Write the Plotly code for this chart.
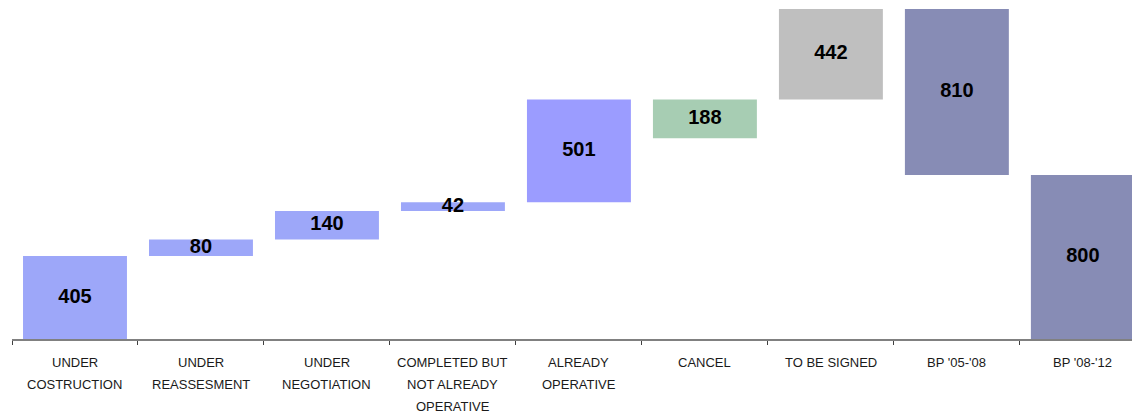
import plotly.graph_objects as go

# Project pipeline waterfall: categories, values and label lines
categories = [
    "UNDER COSTRUCTION",
    "UNDER REASSESMENT",
    "UNDER NEGOTIATION",
    "COMPLETED BUT NOT ALREADY OPERATIVE",
    "ALREADY OPERATIVE",
    "CANCEL",
    "TO BE SIGNED",
    "BP '05-'08",
    "BP '08-'12",
]
label_lines = [
    ["UNDER", "COSTRUCTION"],
    ["UNDER", "REASSESMENT"],
    ["UNDER", "NEGOTIATION"],
    ["COMPLETED BUT", "NOT ALREADY", "OPERATIVE"],
    ["ALREADY", "OPERATIVE"],
    ["CANCEL"],
    ["TO BE SIGNED"],
    ["BP '05-'08"],
    ["BP '08-'12"],
]
values = [405, 80, 140, 42, 501, 188, 442, 810, 800]
colors = ["#9DA7F9", "#9DA7F9", "#9DA7F9", "#9DA7F9", "#9B9CFF",
          "#A7CDB3", "#BFBFBF", "#878CB5", "#878CB5"]

# Floating bar bases
bases = []
running = 0
for v in values[:5]:
    bases.append(running)
    running += v
bases.append(running - values[5])        # cancelled projects hang below the total
bases.append(running)                    # to-be-signed stacks on top of the total
grand_total = running + values[6]
bases.append(grand_total - values[7])    # BP '05-'08 reaches the grand total
bases.append(0)                          # BP '08-'12 from zero

FONT = "Liberation Sans, Arial, sans-serif"

fig = go.Figure()
fig.add_trace(go.Bar(
    x=categories, y=values, base=bases,
    marker=dict(color=colors, line=dict(width=0)),
    hoverinfo="skip", showlegend=False,
))
fig.add_trace(go.Scatter(
    x=categories,
    y=[b + v / 2 for b, v in zip(bases, values)],
    text=[str(v) for v in values],
    mode="text", textposition="middle center",
    textfont=dict(family=FONT, size=20, color="#000000", weight="bold"),
    hoverinfo="skip", showlegend=False,
))

# Category labels, one annotation per line
line_gap = 22
first_offset = 23
for cat, lines in zip(categories, label_lines):
    for j, line in enumerate(lines):
        fig.add_annotation(
            x=cat, y=0, xref="x", yref="y",
            text=line, showarrow=False,
            yanchor="middle", yshift=-(first_offset + j * line_gap),
            font=dict(family=FONT, size=13, color="#1a1a1a"),
        )

fig.update_layout(
    width=1132, height=414,
    margin=dict(l=12, r=0, t=0, b=75),
    paper_bgcolor="white", plot_bgcolor="white",
    bargap=0.175,
    xaxis=dict(
        range=[-0.5, 8.39],
        showticklabels=False,
        showline=True, linecolor="#808080", linewidth=2,
        ticks="outside", tickson="boundaries", ticklen=4,
        tickcolor="#404040", tickwidth=1,
        showgrid=False, zeroline=False,
    ),
    yaxis=dict(
        range=[0, 1654], visible=False,
        showgrid=False, zeroline=False,
    ),
)

fig.write_html("out.html")
